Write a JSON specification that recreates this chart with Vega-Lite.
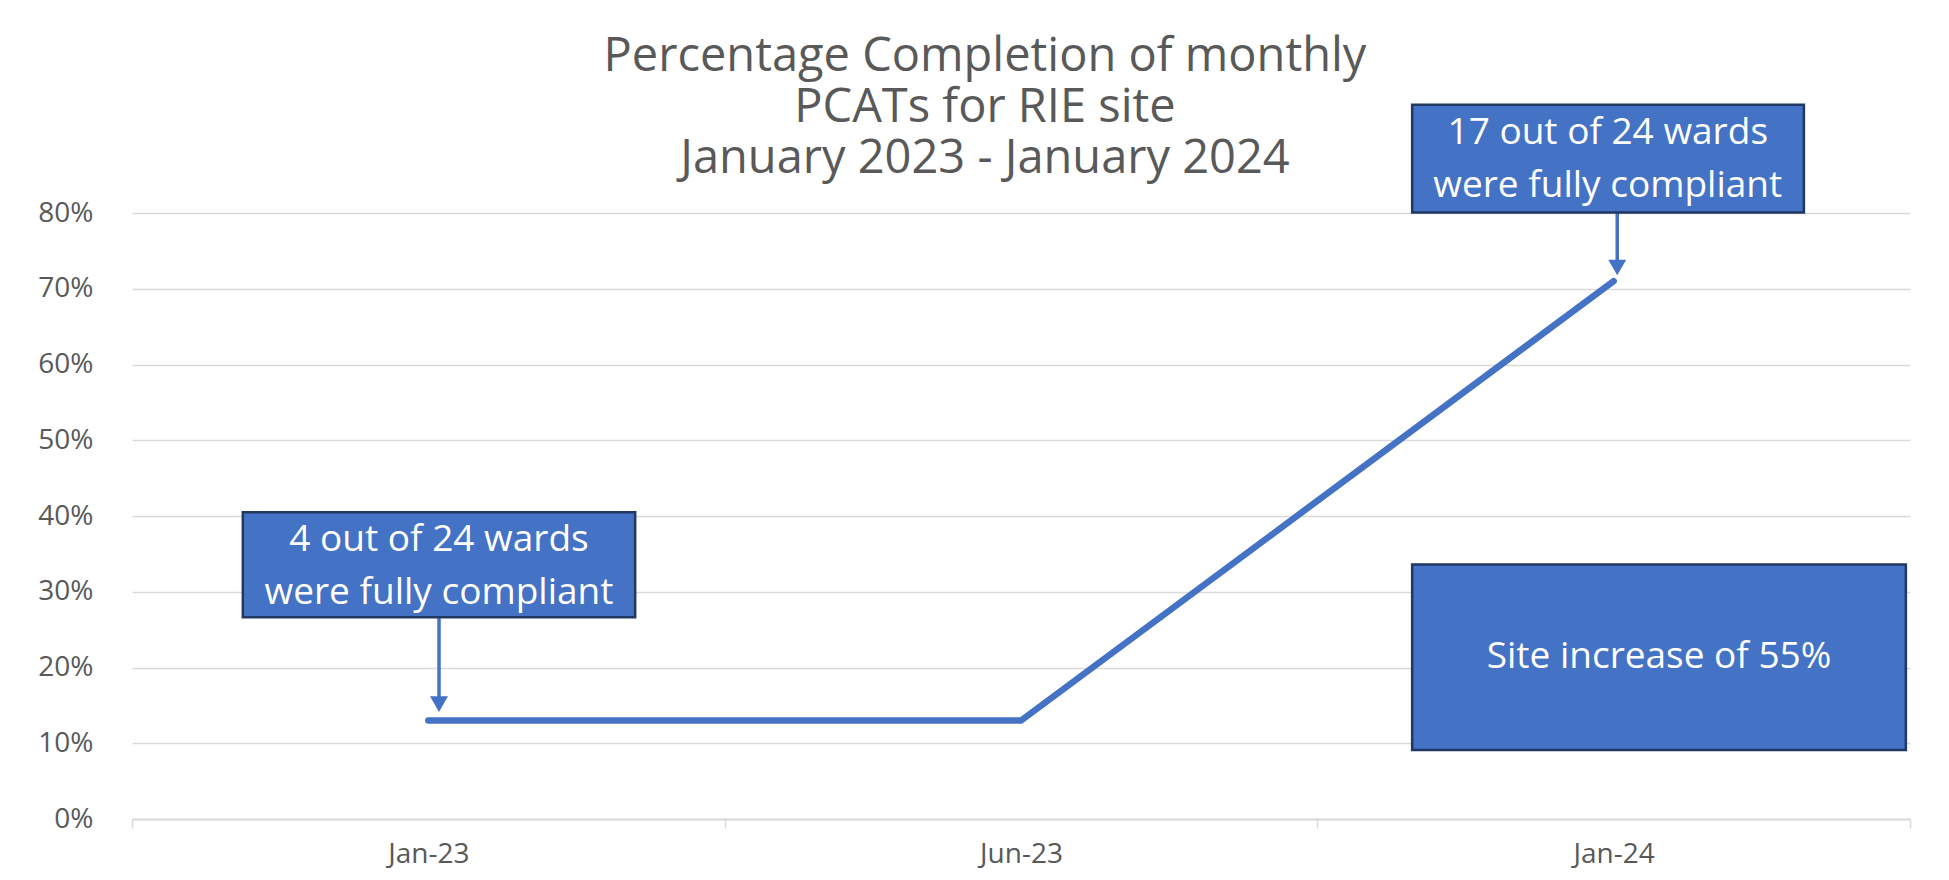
{
  "$schema": "https://vega.github.io/schema/vega-lite/v6.json",
  "width": 1778,
  "height": 606,
  "autosize": "none",
  "padding": {"left": 132, "top": 213, "right": 39, "bottom": 61},
  "background": "white",
  "config": {"font": "Open Sans", "view": {"stroke": null}},
  "title": {
    "text": ["Percentage Completion of monthly", "PCATs for RIE site", "January 2023 - January 2024"],
    "fontSize": 47,
    "font": "Open Sans",
    "fontWeight": "normal",
    "color": "#595959",
    "lineHeight": 51,
    "anchor": "middle",
    "offset": -80,
    "dx": -36
  },
  "datasets": {
    "series": [
      {"month": "Jan-23", "idx": 0, "pct": 0.13},
      {"month": "Jun-23", "idx": 1, "pct": 0.13},
      {"month": "Jan-24", "idx": 2, "pct": 0.71}
    ],
    "boxes": [
      {"label": "4 out of 24 wards\nwere fully compliant", "lines": 2, "bx0": -0.313, "bx1": 0.349, "by0": 0.2665, "by1": 0.405, "tx": 0.018, "ty": 0.3357},
      {"label": "17 out of 24 wards\nwere fully compliant", "lines": 2, "bx0": 1.66, "bx1": 2.321, "by0": 0.8008, "by1": 0.943, "tx": 1.99, "ty": 0.872},
      {"label": "Site increase of 55%", "lines": 1, "bx0": 1.66, "bx1": 2.493, "by0": 0.091, "by1": 0.336, "tx": 2.0765, "ty": 0.2137}
    ],
    "arrows": [
      {"ax": 0.018, "ay0": 0.2665, "ay1": 0.16, "tip": 0.1517},
      {"ax": 2.006, "ay0": 0.8008, "ay1": 0.735, "tip": 0.728}
    ]
  },
  "layer": [
    {
      "data": {"name": "series"},
      "mark": {"type": "line", "color": "#4472C4", "strokeWidth": 6.5, "strokeCap": "round"},
      "encoding": {
        "x": {
          "field": "idx", "type": "quantitative", "title": null,
          "scale": {"domain": [-0.5, 2.5], "nice": false, "zero": false},
          "axis": {
            "values": [-0.5, 0, 0.5, 1, 1.5, 2, 2.5],
            "labelExpr": "datum.value == 0 ? 'Jan-23' : datum.value == 1 ? 'Jun-23' : datum.value == 2 ? 'Jan-24' : ''",
            "grid": false,
            "domainColor": "#d9d9d9",
            "domainWidth": 2,
            "tickColor": "#d9d9d9",
            "tickWidth": 1.5,
            "tickSize": 9,
            "tickOpacity": {"condition": {"test": "datum.value == 0 || datum.value == 1 || datum.value == 2", "value": 0}, "value": 1},
            "labelFontSize": 28,
            "labelColor": "#595959",
            "labelPadding": 12,
            "labelFlush": false,
            "labelOverlap": false,
            "labelBound": false
          }
        },
        "y": {
          "field": "pct", "type": "quantitative", "title": null,
          "scale": {"domain": [0, 0.8], "nice": false},
          "axis": {
            "values": [0, 0.1, 0.2, 0.3, 0.4, 0.5, 0.6, 0.7, 0.8],
            "format": ".0%",
            "ticks": false,
            "domain": false,
            "gridColor": "#d9d9d9",
            "gridWidth": 1.5,
            "labelFontSize": 28,
            "labelColor": "#595959",
            "labelPadding": 39
          }
        }
      }
    },
    {
      "data": {"name": "arrows"},
      "mark": {"type": "rule", "color": "#4472C4", "strokeWidth": 3.5},
      "encoding": {
        "x": {"field": "ax", "type": "quantitative", "title": null},
        "y": {"field": "ay0", "type": "quantitative", "title": null},
        "y2": {"field": "ay1"}
      }
    },
    {
      "data": {"name": "arrows"},
      "mark": {"type": "point", "shape": "triangle-down", "filled": true, "size": 324, "color": "#4472C4", "opacity": 1},
      "encoding": {
        "x": {"field": "ax", "type": "quantitative", "title": null},
        "y": {"field": "tip", "type": "quantitative", "title": null}
      }
    },
    {
      "data": {"name": "boxes"},
      "mark": {"type": "rect", "fill": "#4472C4", "stroke": "#203864", "strokeWidth": 2.5, "clip": false},
      "encoding": {
        "x": {"field": "bx0", "type": "quantitative", "title": null},
        "x2": {"field": "bx1"},
        "y": {"field": "by0", "type": "quantitative", "title": null},
        "y2": {"field": "by1"}
      }
    },
    {
      "data": {"name": "boxes"},
      "transform": [{"filter": "datum.lines == 2"}],
      "mark": {"type": "text", "color": "white", "fontSize": 37, "font": "Open Sans", "lineBreak": "\n", "lineHeight": 53, "align": "center", "baseline": "middle", "dy": -25},
      "encoding": {
        "x": {"field": "tx", "type": "quantitative", "title": null},
        "y": {"field": "ty", "type": "quantitative", "title": null},
        "text": {"field": "label"}
      }
    },
    {
      "data": {"name": "boxes"},
      "transform": [{"filter": "datum.lines == 1"}],
      "mark": {"type": "text", "color": "white", "fontSize": 37, "font": "Open Sans", "align": "center", "baseline": "middle"},
      "encoding": {
        "x": {"field": "tx", "type": "quantitative", "title": null},
        "y": {"field": "ty", "type": "quantitative", "title": null},
        "text": {"field": "label"}
      }
    }
  ]
}
